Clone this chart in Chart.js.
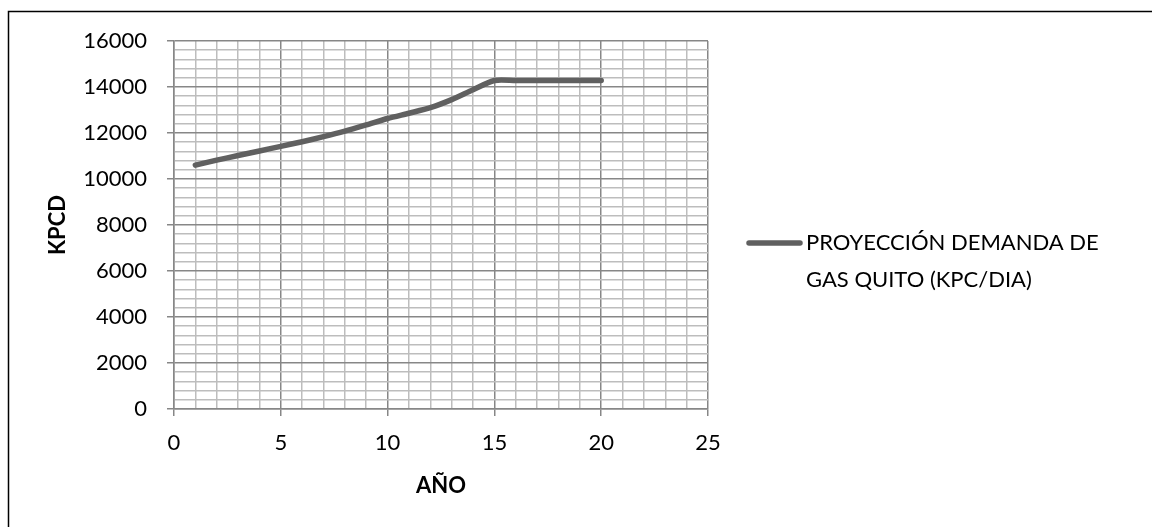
<!DOCTYPE html>
<html lang="es">
<head>
<meta charset="utf-8">
<title>Proyección demanda de gas Quito</title>
<script src="https://cdn.jsdelivr.net/npm/chart.js@4/dist/chart.umd.min.js"></script>
<style>
  html, body { margin: 0; padding: 0; background: #fff; overflow: hidden; }
  #wrap { position: relative; width: 1152px; height: 527px; }
  canvas { display: block; }
</style>
</head>
<body>
<div id="wrap"><canvas id="chart" width="1152" height="527"></canvas></div>
<script>
// Años de la proyección
const years = [1, 2, 3, 4, 5, 6, 7, 8, 9, 10, 11, 12, 13, 14, 15, 16, 17, 18, 19, 20];
// Demanda proyectada (KPC por día)
const demand = [10600, 10820, 11020, 11220, 11420, 11620, 11840, 12080, 12350, 12630,
                12860, 13100, 13450, 13880, 14280, 14280, 14280, 14280, 14280, 14280];
const seriesLabel = ['PROYECCIÓN DEMANDA DE', 'GAS QUITO (KPC/DIA)'];
const xTitle = 'AÑO';
const yTitle = 'KPCD';

const FONT = 'Lato, "Open Sans", sans-serif';
const MAJOR = '#878787';
const MINOR = '#bdbdbd';
const LINE = '#606060';

// Marco exterior del gráfico
const framePlugin = {
  id: 'frame',
  beforeDraw(chart) {
    const ctx = chart.ctx;
    ctx.save();
    ctx.fillStyle = '#fff';
    ctx.fillRect(0, 0, chart.width, chart.height);
    ctx.strokeStyle = '#000';
    ctx.lineWidth = 1.5;
    ctx.strokeRect(8.5, 11.5, chart.width + 20, chart.height + 20);
    ctx.restore();
  }
};

// Leyenda a la derecha, con el rótulo en dos líneas
const sideLegend = {
  id: 'sideLegend',
  afterDraw(chart) {
    const ds = chart.data.datasets[0];
    const ctx = chart.ctx;
    const area = chart.chartArea;
    const x0 = area.right + 39;
    const y0 = 243;
    ctx.save();
    ctx.strokeStyle = ds.borderColor;
    ctx.lineWidth = ds.borderWidth;
    ctx.lineCap = 'round';
    ctx.beginPath();
    ctx.moveTo(x0 + 2, y0);
    ctx.lineTo(x0 + 53, y0);
    ctx.stroke();
    ctx.fillStyle = '#000';
    ctx.font = '22px ' + FONT;
    ctx.textBaseline = 'middle';
    ds.label.forEach((line, i) => ctx.fillText(line, x0 + 59, y0 + i * 37));
    ctx.restore();
  }
};

new Chart(document.getElementById('chart'), {
  type: 'line',
  data: {
    datasets: [{
      label: seriesLabel,
      data: years.map((y, i) => ({ x: y, y: demand[i] })),
      borderColor: LINE,
      borderWidth: 5.5,
      borderCapStyle: 'round',
      borderJoinStyle: 'round',
      tension: 0.25,
      pointRadius: 0,
      fill: false
    }]
  },
  options: {
    responsive: false,
    animation: false,
    layout: { padding: { left: 0, right: 444, top: 41, bottom: 0 } },
    plugins: { legend: { display: false }, tooltip: { enabled: false } },
    scales: {
      x: {
        type: 'linear',
        min: 0, max: 25,
        afterFit(s) { s.height = 118; },
        ticks: {
          stepSize: 1,
          autoSkip: false,
          maxRotation: 0,
          padding: 14,
          color: '#000',
          font: { family: FONT, size: 22 },
          callback: v => (v % 5 === 0 ? String(v) : '')
        },
        grid: {
          color: c => (c.tick && c.tick.value % 5 === 0 ? MAJOR : MINOR),
          tickColor: c => (c.tick && c.tick.value % 5 === 0 ? MAJOR : 'rgba(0,0,0,0)'),
          lineWidth: 1.5,
          tickLength: 7
        },
        border: { color: MAJOR, width: 1.5 },
        title: {
          display: true,
          text: xTitle,
          color: '#000',
          font: { family: FONT, size: 22, weight: 'bold' },
          padding: { top: 0, bottom: 28 }
        }
      },
      y: {
        min: 0, max: 16000,
        afterFit(s) { s.width = 174; },
        ticks: {
          stepSize: 400,
          autoSkip: false,
          padding: 20,
          color: '#000',
          font: { family: FONT, size: 22 },
          callback: v => (v % 2000 === 0 ? String(v) : '')
        },
        grid: {
          color: c => (c.tick && c.tick.value % 2000 === 0 ? MAJOR : MINOR),
          tickColor: c => (c.tick && c.tick.value % 2000 === 0 ? MAJOR : 'rgba(0,0,0,0)'),
          lineWidth: 1.5,
          tickLength: 7
        },
        border: { color: MAJOR, width: 1.5 },
        title: {
          display: true,
          text: yTitle,
          color: '#000',
          font: { family: FONT, size: 22, weight: 'bold' },
          padding: { top: 45, bottom: 0 }
        }
      }
    }
  },
  plugins: [framePlugin, sideLegend]
});
</script>
</body>
</html>
